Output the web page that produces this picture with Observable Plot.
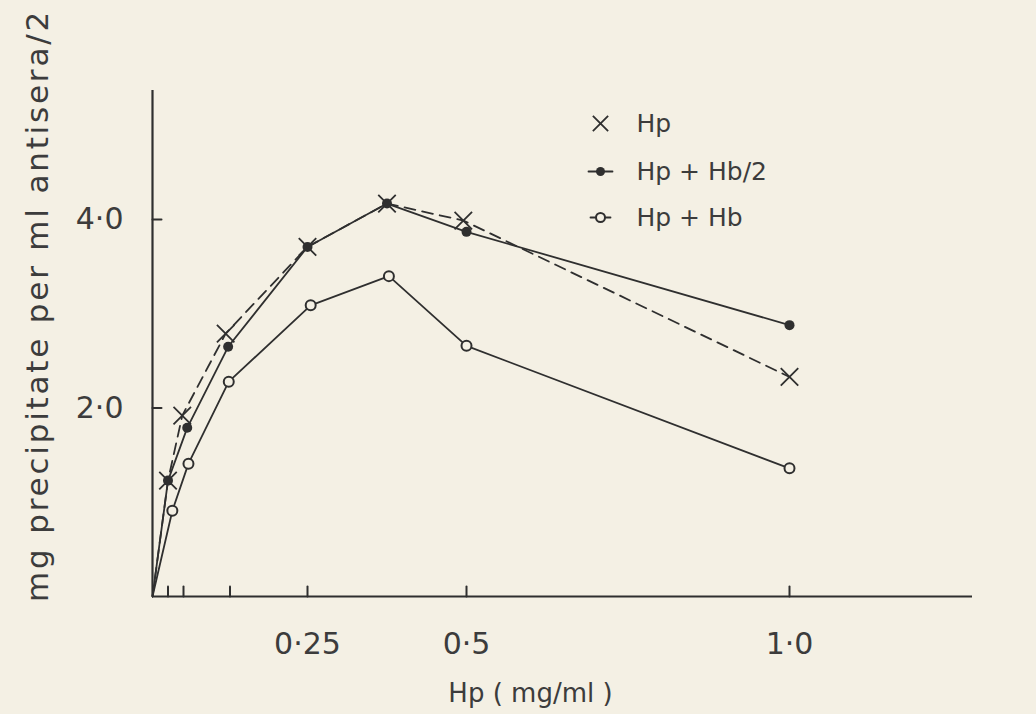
<!DOCTYPE html>
<html>
<head>
<meta charset="utf-8">
<script src="https://cdn.jsdelivr.net/npm/d3@7"></script>
<script src="https://cdn.jsdelivr.net/npm/@observablehq/plot@0.6"></script>
<style>
  html, body { margin: 0; padding: 0; background: #f4f0e4; }
  #chart { width: 1036px; height: 714px; }
</style>
</head>
<body>
<div id="chart"></div>
<script>
// ---- data ----
const xTickValues = [0.025, 0.05, 0.125, 0.25, 0.5, 1.0];
const xLabelValues = [0.25, 0.5, 1.0];
const xLabelText = ["0·25", "0·5", "1·0"];
const yTickValues = [2, 4];
const yLabelText = ["2·0", "4·0"];

const hpX = [0, 0.025, 0.048, 0.118, 0.25, 0.375, 0.495, 1.0];
const hpY = [0, 1.23, 1.92, 2.79, 3.71, 4.17, 3.99, 2.33];

const hbHalfX = [0, 0.025, 0.056, 0.122, 0.25, 0.375, 0.5, 1.0];
const hbHalfY = [0, 1.23, 1.79, 2.65, 3.71, 4.17, 3.87, 2.88];

const hbX = [0, 0.032, 0.058, 0.123, 0.255, 0.378, 0.5, 1.0];
const hbY = [0, 0.91, 1.41, 2.28, 3.09, 3.40, 2.66, 1.36];

const seriesNames = ["Hp", "Hp + Hb/2", "Hp + Hb"];
const xLabel = "Hp ( mg/ml )";
const yLabel = "mg precipitate per ml antisera/2";

// ---- build tables ----
const toRows = (xs, ys) => xs.map((x, i) => ({x, y: ys[i]}));
const hp = toRows(hpX, hpY);
const hbHalf = toRows(hbHalfX, hbHalfY);
const hb = toRows(hbX, hbY);

const ink = "#2f2f2f";
const textInk = "#3c3c3c";
const bg = "#f4f0e4";
const font = "DejaVu Sans, sans-serif";

const tickShapeUp = {draw(ctx, l) { ctx.moveTo(0, 0); ctx.lineTo(0, -l); }};

// legend layout (offsets from the frame's top-left corner)
const legMarkDx = 448, legTextDx = 484;
const legDy = [33, 81, 127];

const legendMarks = [
  Plot.dot([seriesNames[0]], {frameAnchor: "top-left", dx: legMarkDx, dy: legDy[0], r: 7, symbol: "times", stroke: ink, strokeWidth: 1.8}),
  Plot.vector([seriesNames[1]], {frameAnchor: "top-left", dx: legMarkDx, dy: legDy[1], length: 24, rotate: 90, anchor: "middle", shape: tickShapeUp, stroke: ink, strokeWidth: 1.8}),
  Plot.dot([seriesNames[1]], {frameAnchor: "top-left", dx: legMarkDx, dy: legDy[1], r: 4.5, fill: ink}),
  Plot.vector([seriesNames[2]], {frameAnchor: "top-left", dx: legMarkDx, dy: legDy[2], length: 20, rotate: 90, anchor: "middle", shape: tickShapeUp, stroke: ink, strokeWidth: 1.8}),
  Plot.dot([seriesNames[2]], {frameAnchor: "top-left", dx: legMarkDx, dy: legDy[2], r: 4.5, fill: bg, stroke: ink, strokeWidth: 2}),
  ...seriesNames.map((name, i) => Plot.text([name], {frameAnchor: "top-left", dx: legTextDx, dy: legDy[i], text: d => d, textAnchor: "start", lineAnchor: "middle", fontSize: 25, fill: textInk}))
];

const chart = Plot.plot({
  width: 1036,
  height: 714,
  marginLeft: 152,
  marginRight: 64,
  marginTop: 90,
  marginBottom: 118,
  style: {background: bg, fontFamily: font},
  x: {type: "linear", domain: [0, 0.25, 0.5, 1.0, 1.283], range: [152, 307, 466, 789, 972], axis: null},
  y: {domain: [0, 5.37], axis: null},
  marks: [
    // axes lines
    Plot.ruleX([0], {stroke: ink, strokeWidth: 2.2}),
    Plot.ruleY([0], {stroke: ink, strokeWidth: 2.2}),
    // ticks
    Plot.vector(xTickValues, {x: d => d, y: 0, length: 10, rotate: 0, anchor: "start", shape: tickShapeUp, stroke: ink, strokeWidth: 2}),
    Plot.vector(yTickValues, {x: 0, y: d => d, length: 9, rotate: 90, anchor: "start", shape: tickShapeUp, stroke: ink, strokeWidth: 2}),
    // tick labels
    Plot.text(xLabelValues, {x: d => d, y: 0, text: (d, i) => xLabelText[i], dy: 48, fontSize: 30, fill: textInk, lineAnchor: "middle"}),
    Plot.text(yTickValues, {x: 0, y: d => d, text: (d, i) => yLabelText[i], dx: -29, textAnchor: "end", fontSize: 30, fill: textInk, lineAnchor: "middle"}),
    // axis titles
    Plot.text([xLabel], {frameAnchor: "bottom", text: d => d, dx: -32, dy: 97, fontSize: 26, fill: textInk, lineAnchor: "middle"}),
    Plot.text([yLabel], {frameAnchor: "left", text: d => d, textAnchor: "middle", dx: -114, dy: -38, rotate: -90, fontSize: 31, fill: textInk, lineAnchor: "middle"}),
    // series lines
    Plot.line(hbHalf, {x: "x", y: "y", stroke: ink, strokeWidth: 1.8}),
    Plot.line(hb, {x: "x", y: "y", stroke: ink, strokeWidth: 1.8}),
    Plot.line(hp, {x: "x", y: "y", stroke: ink, strokeWidth: 1.8, strokeDasharray: "11,7"}),
    // markers
    Plot.dot(hbHalf.slice(1), {x: "x", y: "y", r: 5, fill: ink}),
    Plot.dot(hb.slice(1), {x: "x", y: "y", r: 5, fill: bg, stroke: ink, strokeWidth: 2}),
    Plot.dot(hp.slice(1), {x: "x", y: "y", r: 8, symbol: "times", stroke: ink, strokeWidth: 1.8}),
    // legend
    ...legendMarks
  ]
});
// widen the spacing of the vertical axis title, as in the original typesetting
d3.select(chart).selectAll("text").filter(function() { return this.textContent === yLabel; })
  .attr("letter-spacing", "2.8px");
document.getElementById("chart").appendChild(chart);
</script>
</body>
</html>
